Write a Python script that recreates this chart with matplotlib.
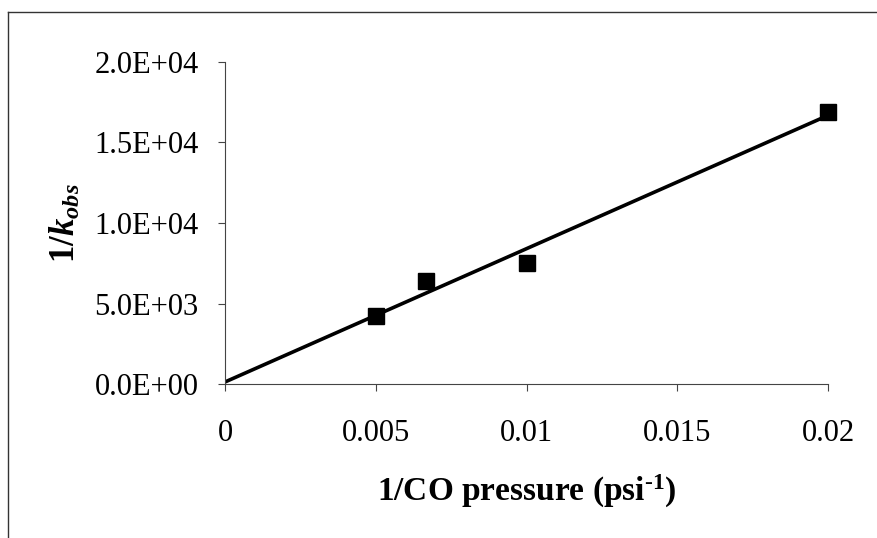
import numpy as np
import matplotlib
matplotlib.use("Agg")
import matplotlib.pyplot as plt
from matplotlib.lines import Line2D

# 1/CO pressure (psi^-1) and 1/k_obs
inv_pressure = [0.005, 0.006667, 0.01, 0.02]
inv_kobs = [4200, 6400, 7500, 16900]
x_ticks = [0, 0.005, 0.01, 0.015, 0.02]
x_tick_labels = ["0", "0.005", "0.01", "0.015", "0.02"]
y_ticks = [0, 5000, 10000, 15000, 20000]
y_tick_labels = ["0.0E+00", "5.0E+03", "1.0E+04", "1.5E+04", "2.0E+04"]

plt.rcParams["font.family"] = ["Liberation Serif", "DejaVu Serif"]
plt.rcParams["mathtext.fontset"] = "custom"
plt.rcParams["mathtext.rm"] = "Liberation Serif"
plt.rcParams["mathtext.it"] = "Liberation Serif:italic"
plt.rcParams["mathtext.bf"] = "Liberation Serif:bold"
plt.rcParams["mathtext.bfit"] = "Liberation Serif:bold:italic"

fig = plt.figure(figsize=(8.77, 5.38), dpi=100)
ax = fig.add_axes([0.2566, 0.2862, 0.6875, 0.5986])

# linear least-squares trendline
slope, intercept = np.polyfit(inv_pressure, inv_kobs, 1)
xl = np.array([0.0, max(inv_pressure)])
ax.plot(xl, slope * xl + intercept, color="black", lw=2.6, solid_capstyle="butt", zorder=2)
ax.plot(inv_pressure, inv_kobs, linestyle="none", marker="s", markersize=11,
        color="black", zorder=3, clip_on=False)

ax.set_xlim(0, 0.02)
ax.set_ylim(0, 20000)
ax.set_xticks(x_ticks)
ax.set_xticklabels(x_tick_labels)
ax.set_yticks(y_ticks)
ax.set_yticklabels(y_tick_labels)
ax.tick_params(direction="out", length=5, width=0.8, labelsize=22, color="#444444")
ax.tick_params(axis="x", pad=20)
ax.tick_params(axis="y", pad=14)
for s in ("top", "right"):
    ax.spines[s].set_visible(False)
for s in ("left", "bottom"):
    ax.spines[s].set_linewidth(0.8)
    ax.spines[s].set_color("#444444")

ax.set_xlabel(r"1/CO pressure (psi$^{\mathbf{\text{-}1}}$)", fontsize=24, fontweight="bold",
              labelpad=18)
ax.set_ylabel(r"$\mathbf{1/}\mathbfit{k}_{\mathbfit{obs}}$", fontsize=25, labelpad=8)

# outer frame lines
fig.add_artist(Line2D([8 / 877, 8 / 877], [0, 1 - 12 / 538], transform=fig.transFigure,
                      color="#333333", lw=1.0))
fig.add_artist(Line2D([8 / 877, 1], [1 - 12 / 538, 1 - 12 / 538], transform=fig.transFigure,
                      color="#333333", lw=1.0))

fig.savefig("out.png", dpi=100)
